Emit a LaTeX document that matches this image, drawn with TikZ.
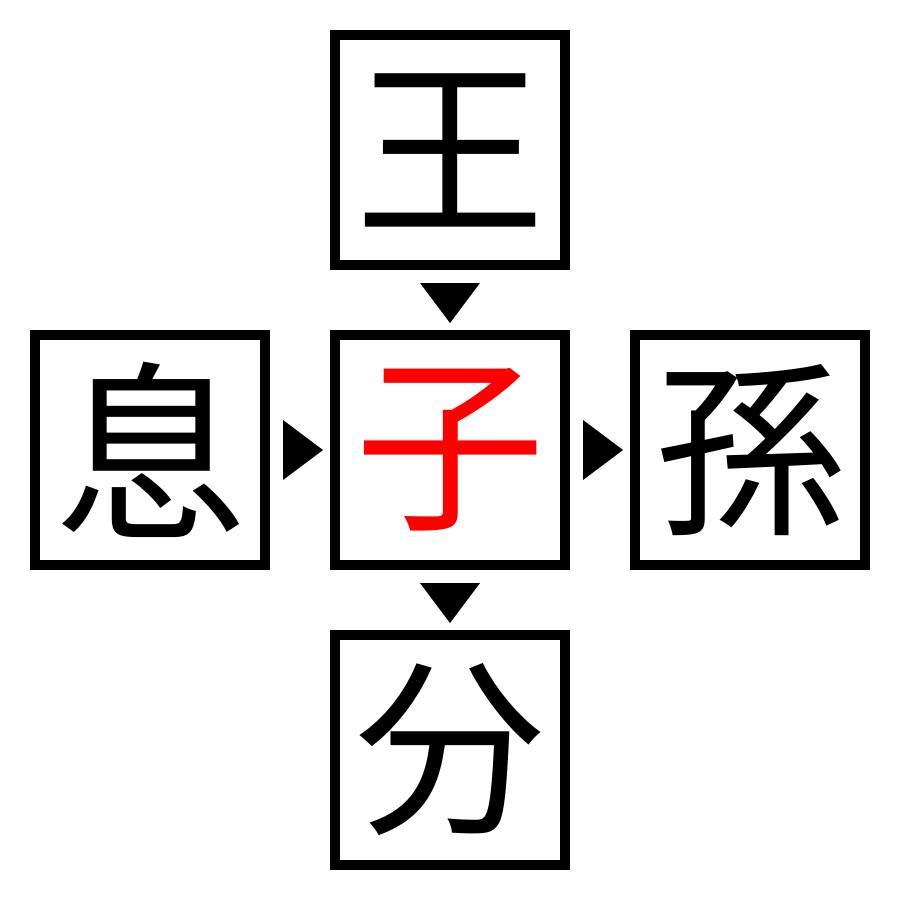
\documentclass[tikz,border=0pt]{standalone}
\usepackage{fontspec}
\newfontfamily\cjk{Noto Sans CJK JP}
\begin{document}
\begin{tikzpicture}[x=0.01cm,y=-0.01cm,
  cell/.style={draw=black,line width=0.1cm,minimum size=2.3cm,inner sep=0pt,font=\cjk\fontsize{54}{54}\selectfont},
  tri/.style={fill=black}]
\useasboundingbox (0,0) rectangle (900,900);
\node[cell] (top) at (450,150) {王};
\node[cell,text=red] (mid) at (450,450) {子};
\node[cell] (left) at (150,450) {息};
\node[cell] (right) at (750,450) {孫};
\node[cell] (bot) at (450,750) {分};
\fill[tri] (420,283) -- (480,283) -- (450,323) -- cycle;
\fill[tri] (420,583) -- (480,583) -- (450,623) -- cycle;
\fill[tri] (283,420) -- (283,480) -- (323,450) -- cycle;
\fill[tri] (583,420) -- (583,480) -- (623,450) -- cycle;
\end{tikzpicture}
\end{document}
